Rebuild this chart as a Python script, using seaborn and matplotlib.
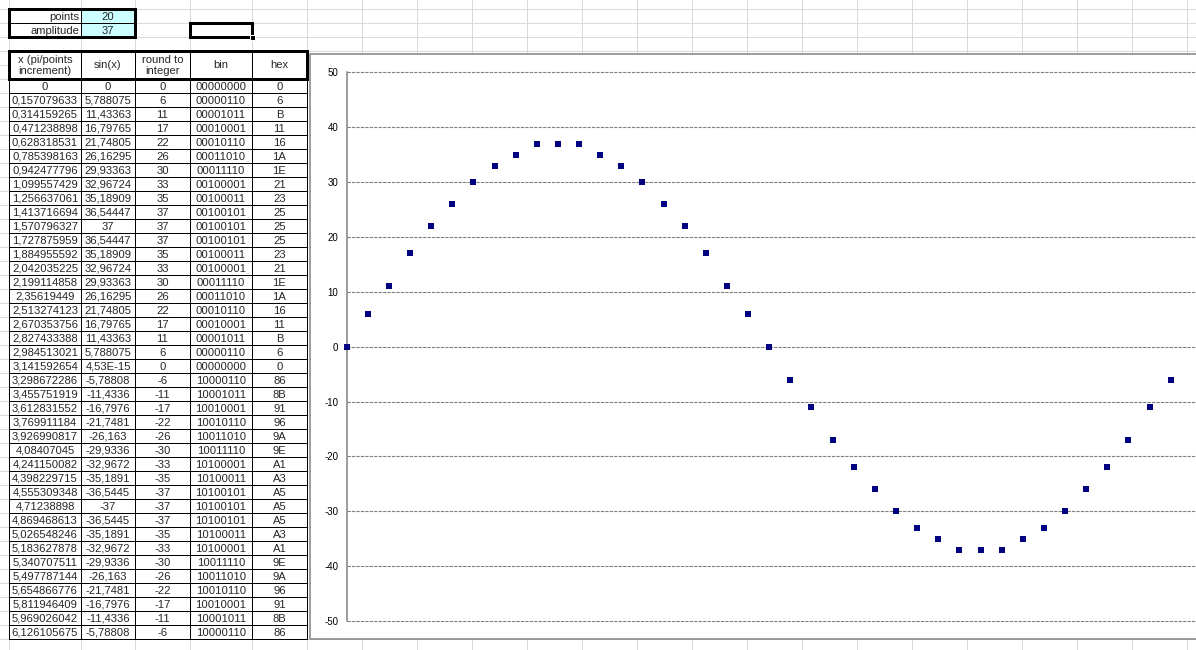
import matplotlib
matplotlib.use("Agg")
import matplotlib.pyplot as plt
from matplotlib.patches import Rectangle
import seaborn as sns
import pandas as pd

# ---- data ----
points_value = "20"
amplitude_value = "37"

x_labels = ["0", "0,157079633", "0,314159265", "0,471238898", "0,628318531", "0,785398163",
            "0,942477796", "1,099557429", "1,256637061", "1,413716694", "1,570796327",
            "1,727875959", "1,884955592", "2,042035225", "2,199114858", "2,35619449",
            "2,513274123", "2,670353756", "2,827433388", "2,984513021", "3,141592654",
            "3,298672286", "3,455751919", "3,612831552", "3,769911184", "3,926990817",
            "4,08407045", "4,241150082", "4,398229715", "4,555309348", "4,71238898",
            "4,869468613", "5,026548246", "5,183627878", "5,340707511", "5,497787144",
            "5,654866776", "5,811946409", "5,969026042", "6,126105675"]
sin_labels = ["0", "5,788075", "11,43363", "16,79765", "21,74805", "26,16295", "29,93363",
              "32,96724", "35,18909", "36,54447", "37", "36,54447", "35,18909", "32,96724",
              "29,93363", "26,16295", "21,74805", "16,79765", "11,43363", "5,788075", "4,53E-15",
              "-5,78808", "-11,4336", "-16,7976", "-21,7481", "-26,163", "-29,9336", "-32,9672",
              "-35,1891", "-36,5445", "-37", "-36,5445", "-35,1891", "-32,9672", "-29,9336",
              "-26,163", "-21,7481", "-16,7976", "-11,4336", "-5,78808"]
rounded = [0, 6, 11, 17, 22, 26, 30, 33, 35, 37, 37, 37, 35, 33, 30, 26, 22, 17, 11, 6, 0,
           -6, -11, -17, -22, -26, -30, -33, -35, -37, -37, -37, -35, -33, -30, -26, -22,
           -17, -11, -6]
bin_labels = ["00000000", "00000110", "00001011", "00010001", "00010110", "00011010",
              "00011110", "00100001", "00100011", "00100101", "00100101", "00100101",
              "00100011", "00100001", "00011110", "00011010", "00010110", "00010001",
              "00001011", "00000110", "00000000", "10000110", "10001011", "10010001",
              "10010110", "10011010", "10011110", "10100001", "10100011", "10100101",
              "10100101", "10100101", "10100011", "10100001", "10011110", "10011010",
              "10010110", "10010001", "10001011", "10000110"]
hex_labels = ["0", "6", "B", "11", "16", "1A", "1E", "21", "23", "25", "25", "25", "23", "21",
              "1E", "1A", "16", "11", "B", "6", "0", "86", "8B", "91", "96", "9A", "9E", "A1",
              "A3", "A5", "A5", "A5", "A3", "A1", "9E", "9A", "96", "91", "8B", "86"]
header_labels = ["x (pi/points\nincrement)", "sin(x)", "round to\ninteger", "bin", "hex"]
y_ticks = [-50, -40, -30, -20, -10, 0, 10, 20, 30, 40, 50]
x_ticks = [1, 2, 3, 4, 5, 6]

df = pd.DataFrame({"x": [float(s.replace(",", ".")) for s in x_labels], "y": rounded})

# ---- style ----
sns.set_style("white")
plt.rcParams["font.family"] = ["Liberation Sans", "DejaVu Sans"]
plt.rcParams["axes.unicode_minus"] = False

W, H = 1196, 650
fig = plt.figure(figsize=(W / 100, H / 100), dpi=100)
fig.patch.set_facecolor("white")

bg = fig.add_axes([0, 0, 1, 1])
bg.set_xlim(0, W)
bg.set_ylim(H, 0)
bg.axis("off")

PX = 0.72  # 1 pixel in points
grid_c = "#d9d9d9"

# spreadsheet gridlines
col_lines = [9, 81, 135, 190, 252, 307] + [307 + 55 * k for k in range(1, 17)]
row_lines = [9, 23, 37, 51, 65] + [79 + 14 * k for k in range(0, 42)]
for cx in col_lines:
    bg.plot([cx, cx], [0, H], color=grid_c, lw=PX, zorder=1)
for ry in row_lines:
    bg.plot([0, W], [ry, ry], color=grid_c, lw=PX, zorder=1)

# points / amplitude box
bg.add_patch(Rectangle((9, 9), 72, 28, facecolor="white", edgecolor="none", zorder=2))
bg.add_patch(Rectangle((81, 9), 54, 28, facecolor="#ccffff", edgecolor="none", zorder=2))
bg.plot([81, 81], [9, 37], color="black", lw=PX, zorder=3)
bg.plot([9, 135], [23, 23], color="black", lw=PX, zorder=3)
bg.add_patch(Rectangle((9, 9), 126, 28, facecolor="none", edgecolor="black", lw=3 * PX, zorder=4))
fs = 8.1
bg.text(79, 16.5, "points", ha="right", va="center", fontsize=fs, zorder=5)
bg.text(79, 30.5, "amplitude", ha="right", va="center", fontsize=fs, zorder=5)
bg.text(108, 16.5, points_value, ha="center", va="center", fontsize=fs, zorder=5)
bg.text(108, 30.5, amplitude_value, ha="center", va="center", fontsize=fs, zorder=5)

# selected cell
bg.add_patch(Rectangle((190, 23), 62, 14, facecolor="white", edgecolor="black", lw=3 * PX, zorder=4))
bg.add_patch(Rectangle((249.5, 34.5), 5, 5, facecolor="black", edgecolor="white", lw=PX, zorder=5))

# table
cols = [9, 81, 135, 190, 252, 307]
centers = [(cols[i] + cols[i + 1]) / 2 for i in range(5)]
n = len(x_labels)
top, rh = 79, 14
bg.add_patch(Rectangle((9, 51), 298, 28 + n * rh, facecolor="white", edgecolor="none", zorder=2))
for cx in cols:
    bg.plot([cx, cx], [51, top + n * rh], color="black", lw=PX, zorder=3)
for k in range(n + 1):
    bg.plot([9, 307], [top + k * rh, top + k * rh], color="black", lw=PX, zorder=3)
bg.add_patch(Rectangle((9, 51), 298, 28, facecolor="none", edgecolor="black", lw=3 * PX, zorder=4))
for c, lab in zip(centers, header_labels):
    bg.text(c, 65.5, lab, ha="center", va="center", fontsize=fs, linespacing=1.2, zorder=5)
for i in range(n):
    yc = top + i * rh + 7.5
    for c, lab in zip(centers, [x_labels[i], sin_labels[i], str(rounded[i]), bin_labels[i], hex_labels[i]]):
        bg.text(c, yc, lab, ha="center", va="center", fontsize=fs, zorder=5)

# chart area
bg.add_patch(Rectangle((310, 54), 1000, 585, facecolor="white", edgecolor="#808080", lw=1.5 * PX, zorder=6))

# plot area
left_px, right_px = 346.7, W
top_px, bot_px = 72.3, 621.0
x_per_unit = 134.5
ax = fig.add_axes([left_px / W, (H - bot_px) / H, (right_px - left_px) / W, (bot_px - top_px) / H])
ax.set_zorder(10)
ax.patch.set_alpha(0)

sns.scatterplot(data=df, x="x", y="y", marker="s", color="#000080", s=19, linewidth=0,
                ax=ax, zorder=5, clip_on=False)

ax.set_xlim(0, (right_px - left_px) / x_per_unit)
ax.set_ylim(-50, 50)
ax.set_yticks(y_ticks)
ax.set_yticklabels([str(v) for v in y_ticks], fontsize=7)
ax.set_xticks(x_ticks)
ax.set_xticklabels([])
ax.set_xlabel("")
ax.set_ylabel("")
ax.yaxis.grid(True, color="#808080", lw=0.8, linestyle=(0, (3, 1)))
for gl in ax.get_ygridlines():
    gl.set_clip_on(False)
ax.xaxis.grid(False)
for s in ["top", "right"]:
    ax.spines[s].set_visible(False)
ax.spines["left"].set_color("#808080")
ax.spines["left"].set_linewidth(1.5 * PX)
ax.spines["bottom"].set_position(("data", 0))
ax.spines["bottom"].set_color("none")
ax.tick_params(axis="y", length=0, pad=6, colors="black")
ax.tick_params(axis="x", direction="out", length=2.5, width=PX, color="#808080")

fig.savefig("out.png", dpi=100)
